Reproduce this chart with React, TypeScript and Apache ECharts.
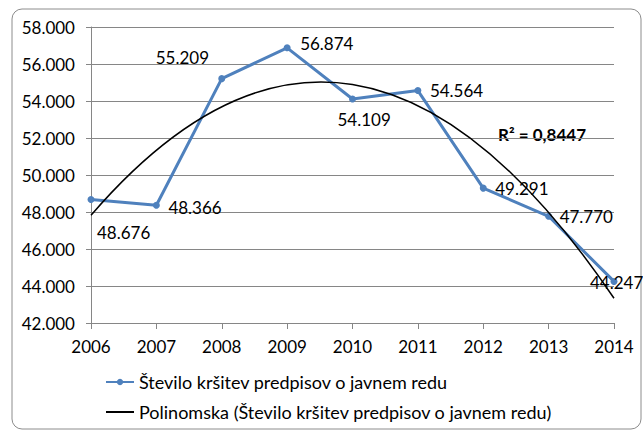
import React, { useEffect, useRef } from "react";
import * as echarts from "echarts";

const years = ["2006", "2007", "2008", "2009", "2010", "2011", "2012", "2013", "2014"];
const values = [48676, 48366, 55209, 56874, 54109, 54564, 49291, 47770, 44247];
// label offsets (px) relative to a "right" placed label
const labelOffsets: [number, number][] = [
  [2.5, 33.5], [8.5, 2], [-69.5, -21.5], [9.5, -4], [-18.5, 21], [8.5, 0], [8.5, 0], [7.5, 0], [-27.5, 1],
];
const seriesName = "Število kršitev predpisov o javnem redu";
const trendName = "Polinomska (Število kršitev predpisov o javnem redu)";
const r2Text = "R² = 0,8447";

// least-squares quadratic fit (Excel polynomial trendline, order 2)
function quadFit(ys: number[]) {
  let s0 = 0, s1 = 0, s2 = 0, s3 = 0, s4 = 0, t0 = 0, t1 = 0, t2 = 0;
  ys.forEach((y, x) => {
    s0 += 1; s1 += x; s2 += x * x; s3 += x * x * x; s4 += x * x * x * x;
    t0 += y; t1 += x * y; t2 += x * x * y;
  });
  const M = [
    [s0, s1, s2, t0],
    [s1, s2, s3, t1],
    [s2, s3, s4, t2],
  ];
  for (let c = 0; c < 3; c++) {
    for (let r = c + 1; r < 3; r++) {
      const f = M[r][c] / M[c][c];
      for (let k = c; k < 4; k++) M[r][k] -= f * M[c][k];
    }
  }
  const coef = [0, 0, 0];
  for (let r = 2; r >= 0; r--) {
    let s = M[r][3];
    for (let k = r + 1; k < 3; k++) s -= M[r][k] * coef[k];
    coef[r] = s / M[r][r];
  }
  return coef;
}

const fmt = (v: number) => {
  const s = Math.round(v).toString();
  return s.replace(/\B(?=(\d{3})+(?!\d))/g, ".");
};

export default function App() {
  const ref = useRef<HTMLDivElement>(null);
  useEffect(() => {
    if (!ref.current) return;
    const chart = echarts.init(ref.current, undefined, { renderer: "svg" });
    const [a, b, c] = quadFit(values);
    const last = values.length - 1;
    const f = (x: number) => a + b * x + c * x * x;
    // exact quadratic Bezier of the fitted parabola over [0, last]
    const mid = last / 2;
    const ctrlY = f(0) + b * mid; // tangent at x=0 evaluated at x=mid
    const font = "Lato, 'Open Sans', sans-serif";
    chart.setOption({
      animation: false,
      backgroundColor: "#ffffff",
      textStyle: { fontFamily: font },
      grid: { left: 91, right: 29, top: 27, bottom: 108 },
      graphic: [
        {
          type: "rect",
          shape: { x: 12, y: 9, width: 629, height: 420, r: 10 },
          style: { fill: "none", stroke: "#8c8c8c", lineWidth: 1 },
          z: -1,
        },
        {
          type: "text",
          left: 498,
          top: 126,
          style: { text: r2Text, font: `bold 17px ${font}`, fill: "#000" },
        },
      ],
      legend: {
        orient: "vertical",
        left: 105,
        top: 372,
        padding: 0,
        itemWidth: 28,
        itemHeight: 8,
        itemGap: 10,
        textStyle: { fontSize: 18, lineHeight: 20, color: "#000", fontFamily: font },
        data: [seriesName, trendName],
      },
      xAxis: {
        type: "category",
        data: years,
        boundaryGap: false,
        axisLine: { lineStyle: { color: "#868686", width: 1 } },
        axisTick: { show: true, length: 6, inside: false, lineStyle: { color: "#868686" } },
        axisLabel: { fontSize: 17, color: "#000", margin: 15, fontFamily: font },
        splitLine: { show: false },
      },
      yAxis: {
        type: "value",
        min: 42000,
        max: 58000,
        interval: 2000,
        axisLine: { show: true, lineStyle: { color: "#868686", width: 1 } },
        axisTick: { show: true, length: 5, lineStyle: { color: "#868686" } },
        axisLabel: { fontSize: 17, color: "#000", margin: 16, formatter: (v: number) => fmt(v), fontFamily: font },
        splitLine: { show: true, lineStyle: { color: "#868686", width: 1 } },
      },
      series: [
        {
          name: seriesName,
          type: "line",
          data: values.map((v, i) => ({
            value: v,
            label: { offset: labelOffsets[i] },
          })),
          symbol: "circle",
          symbolSize: 7,
          lineStyle: { color: "#4F81BD", width: 3 },
          itemStyle: { color: "#4F81BD" },
          label: {
            show: true,
            position: "right",
            distance: 0,
            fontSize: 17,
            color: "#000",
            fontFamily: font,
            formatter: (p: any) => fmt(p.value),
          },
          z: 3,
        },
        {
          name: trendName,
          type: "line",
          data: [],
          symbol: "none",
          symbolSize: 0,
          lineStyle: { color: "#000000", width: 1.5 },
          itemStyle: { color: "rgba(0,0,0,0)" },
        },
        {
          name: "trend-curve",
          type: "custom",
          data: [[0, f(0), mid, ctrlY, last, f(last)]],
          silent: true,
          z: 4,
          renderItem: (params: any, api: any) => {
            const p0 = api.coord([api.value(0), api.value(1)]);
            const p1 = api.coord([api.value(2), api.value(3)]);
            const p2 = api.coord([api.value(4), api.value(5)]);
            return {
              type: "bezierCurve",
              shape: { x1: p0[0], y1: p0[1], cpx1: p1[0], cpy1: p1[1], x2: p2[0], y2: p2[1] },
              style: { stroke: "#000000", lineWidth: 1.5, fill: "none" },
            };
          },
        },
      ],
    });
    return () => chart.dispose();
  }, []);
  return (
    <div
      ref={ref}
      style={{ position: "fixed", left: 0, top: 0, width: 643, height: 431 }}
    />
  );
}
